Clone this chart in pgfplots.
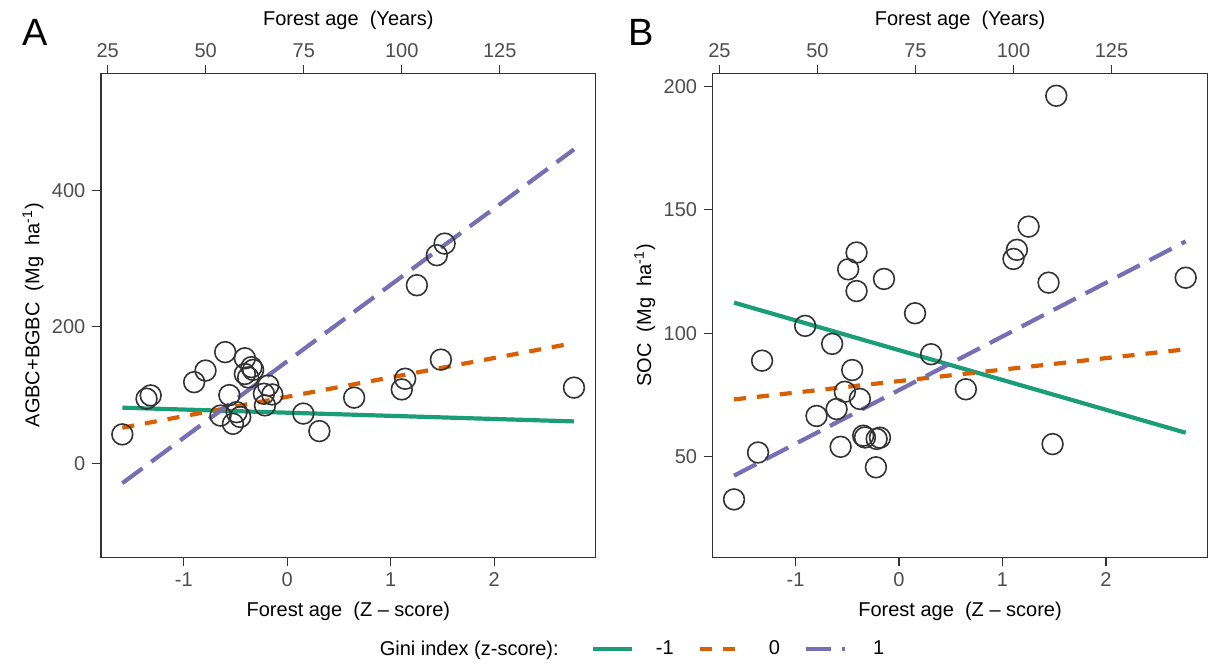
\documentclass[border=0pt]{standalone}
\usepackage{fontspec}
\setmainfont{Liberation Sans}
\usepackage{pgfplots}
\pgfplotsset{compat=1.18}

\definecolor{dkgreen}{HTML}{1B9E77}
\definecolor{dkorange}{HTML}{D95F02}
\definecolor{dkpurple}{HTML}{7570B3}
\definecolor{framegray}{HTML}{333333}
\definecolor{tickgray}{HTML}{4D4D4D}

\newcommand\fs{\fontsize{10}{12}\selectfont}

% panel A: forest age (z) vs AGBC+BGBC
\pgfplotstableread{
z     y
-1.594 42.5
-1.36  94.8
-1.32  99.6
-0.90  119
-0.79  136
-0.645 70
-0.60  163
-0.56  100
-0.525 58
-0.49  75
-0.455 68
-0.41  154
-0.41  131
-0.378 126
-0.346 141
-0.33  137
-0.226 102
-0.216 85
-0.184 114
-0.145 101
0.155  73
0.31   47.3
0.646  96.3
1.106  108.4
1.139  124
1.252  261
1.445  305
1.484  152
1.52   322
2.77   111
}\agbc

% panel B: forest age (z) vs SOC
\pgfplotstableread{
z     y
-1.594 32.7
-1.362 51.7
-1.323 88.9
-0.907 103
-0.797 66.5
-0.646 95.7
-0.603 69.3
-0.564 54
-0.523 76.3
-0.491 125.9
-0.452 85.1
-0.41  132.7
-0.41  117.1
-0.378 73.4
-0.346 58.5
-0.329 57.8
-0.223 45.7
-0.216 57.2
-0.184 57.7
-0.145 122
0.155  108.1
0.31   91.5
0.646  77.3
1.106  130.1
1.139  133.8
1.252  143.2
1.445  120.5
1.484  55.1
1.52   196.2
2.77   122.5
}\soc

\pgfplotsset{
  panel/.style={
    scale only axis, width=247.35pt, height=242pt,
    xmin=-1.80, xmax=2.98,
    axis line style={framegray, line width=0.6pt},
    tick align=outside, tick pos=left, major tick length=4.3pt,
    tick style={framegray, line width=0.6pt},
    xtick={-1,0,1,2}, xticklabels={-1,0,1,2},
    tick label style={font=\fs, text=tickgray},
    label style={font=\fs},
    xlabel={Forest age\ \ (Z – score)},
    xlabel style={at={(axis description cs:0.5,-0.111)}, anchor=center},
    ylabel style={at={(axis description cs:-0.1375,0.5)}, anchor=center},
  },
  years/.style={
    scale only axis, width=247.35pt, height=242pt,
    xmin=23.28, xmax=149.47, ymin=0, ymax=1,
    axis x line*=top, axis y line=none,
    axis line style={framegray, line width=0.6pt},
    tick align=outside, major tick length=4.3pt,
    tick style={framegray, line width=0.6pt},
    xtick={25,50,75,100,125}, xticklabels={25,50,75,100,125},
    tick label style={font=\fs, text=tickgray},
    label style={font=\fs},
    xlabel={Forest age\ \ (Years)},
    xlabel style={at={(axis description cs:0.5,1.11)}, anchor=center},
  },
  pts/.style={only marks, mark=o, mark size=5.2pt,
    mark options={draw=framegray, line width=0.8pt}},
  gneg/.style={dkgreen, line width=2.1pt, no marks},
  gzero/.style={dkorange, line width=2.1pt, no marks, dash pattern=on 6pt off 5.5pt},
  gone/.style={dkpurple, line width=2.1pt, no marks, dash pattern=on 12.5pt off 5.5pt},
}

\begin{document}
\begin{tikzpicture}
\useasboundingbox (0,0) rectangle (604.5pt,332.5pt);

% ---- A ----
\begin{axis}[panel, at={(50.5pt,53.85pt)}, anchor=south west,
  ymin=-137.6, ymax=571.5, ytick={0,200,400}, yticklabels={0,200,400},
  ylabel={AGBC+BGBC\ \ (Mg\ \ ha\textsuperscript{-1})}]
\addplot[pts] table[x=z,y=y] {\agbc};
\addplot[gneg] coordinates {(-1.594,81.6) (2.77,61.5)};
\addplot[gzero] coordinates {(-1.594,52.3) (2.77,176.3)};
\addplot[gone] coordinates {(-1.594,-29) (2.77,460)};
\end{axis}
\begin{axis}[years, at={(50.5pt,53.85pt)}, anchor=south west]
\addplot[draw=none] coordinates {(50,0.5)};
\end{axis}

% ---- B ----
\begin{axis}[panel, at={(356.35pt,53.85pt)}, anchor=south west,
  ymin=9.24, ymax=205.3, ytick={50,100,150,200}, yticklabels={50,100,150,200},
  ylabel={SOC\ \ (Mg\ \ ha\textsuperscript{-1})},
  legend style={at={(axis description cs:-0.163,-0.19)}, anchor=center,
    draw=none, fill=none, legend columns=-1, font=\fs,
    column sep=0pt, nodes={inner sep=0pt}},
  legend image code/.code={\draw[#1] (0pt,0pt) -- (19.5pt,0pt);}]
\addlegendimage{empty legend}
\addlegendentry{Gini index (z-score):\kern16pt}
\addplot[pts, forget plot] table[x=z,y=y] {\soc};
\addplot[gneg] coordinates {(-1.594,112.4) (2.77,59.7)};
\addlegendentry{\kern11pt-1\kern12pt}
\addplot[gzero] coordinates {(-1.594,73.2) (2.77,93.5)};
\addlegendentry{\kern14pt0\kern12pt}
\addplot[gone] coordinates {(-1.594,42.3) (2.77,137.2)};
\addlegendentry{\kern13pt1}
\end{axis}
\begin{axis}[years, at={(356.35pt,53.85pt)}, anchor=south west]
\addplot[draw=none] coordinates {(50,0.5)};
\end{axis}

\node[font=\fontsize{19}{19}\selectfont] at (17.5pt,316.5pt) {A};
\node[font=\fontsize{19}{19}\selectfont] at (320.5pt,316.5pt) {B};
\end{tikzpicture}
\end{document}
